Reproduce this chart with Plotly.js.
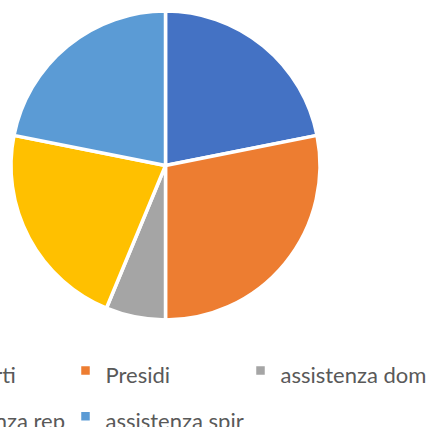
<!DOCTYPE html>
<html>
<head>
<meta charset="utf-8">
<script src="https://cdn.plot.ly/plotly-3.0.1.min.js"></script>
<style>
  html, body { margin: 0; padding: 0; width: 432px; height: 427px; overflow: hidden; background: #ffffff; }
  #chart { position: absolute; left: -200px; top: 0px; width: 632px; height: 470px; }
</style>
</head>
<body>
<div id="chart"></div>
<script>
// Data
const categories = ["Trasporti", "Presidi", "assistenza dom", "assistenza rep", "assistenza spir"];
const values = [7, 9, 2, 7, 7];
const sliceColors = ["#4472C4", "#ED7D31", "#A5A5A5", "#FFC000", "#5B9BD5"];

const legendTextSize = 22;

const trace = {
  type: "pie",
  labels: categories.map(c => '<span style="font-size:' + legendTextSize + 'px">' + c + '</span>'),
  values: values,
  sort: false,
  direction: "clockwise",
  rotation: 0,
  textinfo: "none",
  hoverinfo: "label+value+percent",
  marker: { colors: sliceColors, line: { color: "#ffffff", width: 3.5 } },
  domain: { x: [211 / 632, 520 / 632], y: [1 - 320 / 470, 1 - 11 / 470] }
};

const layout = {
  width: 632,
  height: 470,
  margin: { l: 0, r: 0, t: 0, b: 0 },
  paper_bgcolor: "#ffffff",
  plot_bgcolor: "#ffffff",
  showlegend: true,
  legend: {
    orientation: "h",
    x: (200 - 109.5) / 632,
    xanchor: "left",
    y: 1 - 342.5 / 470,
    yanchor: "top",
    entrywidth: 130,
    entrywidthmode: "pixels",
    traceorder: "normal",
    font: { family: "Lato, 'Open Sans', sans-serif", size: 33, color: "#595959" },
    bgcolor: "rgba(0,0,0,0)"
  }
};

Plotly.newPlot("chart", [trace], layout, { displayModeBar: false, staticPlot: true }).then(function (gd) {
  // let the last legend column run past the legend box, as in the reference
  gd.querySelectorAll(".legend .scrollbox").forEach(function (el) { el.removeAttribute("clip-path"); });
});
</script>
</body>
</html>
